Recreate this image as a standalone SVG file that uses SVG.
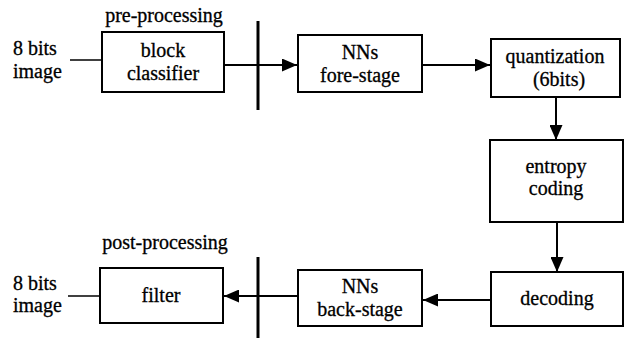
<svg xmlns="http://www.w3.org/2000/svg" width="626" height="338" viewBox="0 0 626 338">
<defs>
<style>
.box{fill:#fff;stroke:#000;stroke-width:2}
.t{font-family:"Liberation Serif",serif;font-size:20px;fill:#000;stroke:#000;stroke-width:0.3;text-anchor:middle}
.tl{font-family:"Liberation Serif",serif;font-size:20px;fill:#000;stroke:#000;stroke-width:0.3}
.c{stroke:#000;stroke-width:2;fill:none}
.thin{stroke:#000;stroke-width:1.5;fill:none}
.bar{stroke:#000;stroke-width:3}
</style>
<marker id="ah" viewBox="0 0 10 10" refX="10" refY="5" markerWidth="7.5" markerHeight="6.5" orient="auto" markerUnits="strokeWidth" preserveAspectRatio="none">
<path d="M0,0 L10,5 L0,10 z" fill="#000"/>
</marker>
</defs>
<rect width="626" height="338" fill="#fff"/>
<g id="labels">
<text class="t" x="164" y="22">pre-processing</text>
<text class="tl" x="13" y="55">8 bits</text>
<text class="tl" x="13" y="78">image</text>
<text class="t" x="165" y="249">post-processing</text>
<text class="tl" x="13" y="290">8 bits</text>
<text class="tl" x="13" y="312">image</text>
</g>
<g id="connectors">
<line class="thin" x1="70" y1="60" x2="102" y2="60"/>
<line class="c" x1="224" y1="65" x2="297" y2="65" marker-end="url(#ah)"/>
<line class="bar" x1="258" y1="21" x2="258" y2="110"/>
<line class="c" x1="422" y1="65" x2="490" y2="65" marker-end="url(#ah)"/>
<line class="c" x1="556" y1="97" x2="556" y2="140" marker-end="url(#ah)"/>
<line class="c" x1="557" y1="222" x2="557" y2="272" marker-end="url(#ah)"/>
<line class="c" x1="491" y1="300" x2="423" y2="300" marker-end="url(#ah)"/>
<line class="c" x1="298" y1="296" x2="224" y2="296" marker-end="url(#ah)"/>
<line class="bar" x1="258" y1="257" x2="258" y2="338"/>
<line class="thin" x1="68" y1="296" x2="100" y2="296"/>
</g>
<g id="block-classifier">
<rect class="box" x="102" y="32" width="122" height="60"/>
<text class="t" x="163" y="57">block</text>
<text class="t" x="163" y="80">classifier</text>
</g>
<g id="nns-fore-stage">
<rect class="box" x="298" y="35" width="124" height="57"/>
<text class="t" x="360" y="59">NNs</text>
<text class="t" x="360" y="82">fore-stage</text>
</g>
<g id="quantization">
<rect class="box" x="491" y="39" width="129" height="58"/>
<text class="t" x="555" y="63">quantization</text>
<text class="t" x="559" y="86">(6bits)</text>
</g>
<g id="entropy-coding">
<rect class="box" x="490" y="140" width="133" height="82"/>
<text class="t" x="556" y="173">entropy</text>
<text class="t" x="556" y="195">coding</text>
</g>
<g id="decoding">
<rect class="box" x="491" y="272" width="132" height="54"/>
<text class="t" x="557" y="305">decoding</text>
</g>
<g id="nns-back-stage">
<rect class="box" x="298" y="270" width="124" height="56"/>
<text class="t" x="360" y="293">NNs</text>
<text class="t" x="360" y="316">back-stage</text>
</g>
<g id="filter">
<rect class="box" x="100" y="268" width="123" height="55"/>
<text class="t" x="161" y="302">filter</text>
</g>
</svg>
